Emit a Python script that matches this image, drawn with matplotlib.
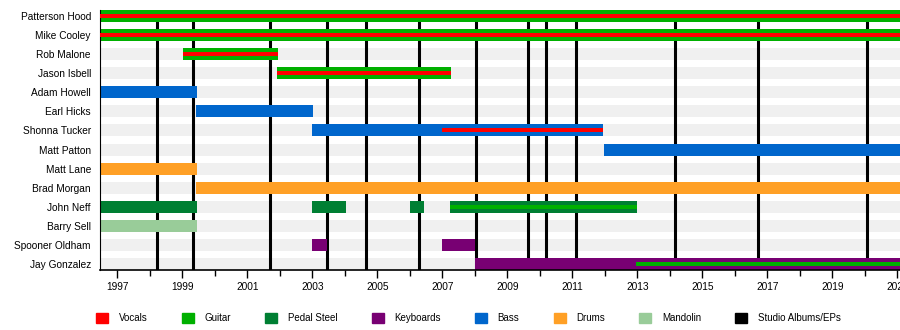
import matplotlib.pyplot as plt
from matplotlib.patches import Patch

plt.rcParams['font.family'] = ['Liberation Sans', 'DejaVu Sans']

members = ["Patterson Hood", "Mike Cooley", "Rob Malone", "Jason Isbell",
           "Adam Howell", "Earl Hicks", "Shonna Tucker", "Matt Patton",
           "Matt Lane", "Brad Morgan", "John Neff", "Barry Sell",
           "Spooner Oldham", "Jay Gonzalez"]

start = 1996.47
now = 2021.08

# main role bars: (member, role, from, to)
bars = [
    ("Patterson Hood", "Guitar", start, now),
    ("Mike Cooley", "Guitar", start, now),
    ("Rob Malone", "Guitar", 1999.02, 2001.94),
    ("Jason Isbell", "Guitar", 2001.91, 2007.27),
    ("Adam Howell", "Bass", start, 1999.45),
    ("Earl Hicks", "Bass", 1999.42, 2003.02),
    ("Shonna Tucker", "Bass", 2003.0, 2011.94),
    ("Matt Patton", "Bass", 2011.97, now),
    ("Matt Lane", "Drums", start, 1999.45),
    ("Brad Morgan", "Drums", 1999.42, now),
    ("John Neff", "Pedal Steel", start, 1999.45),
    ("John Neff", "Pedal Steel", 2003.0, 2004.04),
    ("John Neff", "Pedal Steel", 2006.0, 2006.44),
    ("John Neff", "Pedal Steel", 2007.24, 2012.99),
    ("Barry Sell", "Mandolin", start, 1999.45),
    ("Spooner Oldham", "Keyboards", 2003.0, 2003.45),
    ("Spooner Oldham", "Keyboards", 2007.0, 2008.0),
    ("Jay Gonzalez", "Keyboards", 2008.0, now),
]

# secondary roles, drawn as a thin stripe inside the bar
stripes = [
    ("Patterson Hood", "Vocals", start, now),
    ("Mike Cooley", "Vocals", start, now),
    ("Rob Malone", "Vocals", 1999.02, 2001.94),
    ("Jason Isbell", "Vocals", 2001.91, 2007.27),
    ("Shonna Tucker", "Vocals", 2007.0, 2011.94),
    ("John Neff", "Guitar", 2007.24, 2012.99),
    ("Jay Gonzalez", "Guitar", 2012.96, now),
]

albums = [1998.21, 1999.34, 2001.70, 2003.46, 2004.66, 2006.29, 2008.05,
          2009.65, 2010.20, 2011.12, 2014.17, 2016.72, 2020.05]

roles = ["Vocals", "Guitar", "Pedal Steel", "Keyboards", "Bass", "Drums", "Mandolin"]
colors = {"Vocals": "#ff0000", "Guitar": "#00b000", "Pedal Steel": "#007f33",
          "Keyboards": "#780073", "Bass": "#0066cc", "Drums": "#ffa026",
          "Mandolin": "#99cc99"}

fig = plt.figure(figsize=(9, 3.3), dpi=100)
ax = fig.add_axes([100 / 900, 60 / 330, 800 / 900, 260 / 330])

h = 0.63
rows = {m: i for i, m in enumerate(members)}

# light grey row bands
ax.barh(range(len(members)), now - start, left=start, height=h,
        color="#f0f0f0", linewidth=0, zorder=0)
ax.vlines(albums, -h / 2, len(members) - 1 + h / 2, colors="black",
          linewidth=2.2, zorder=1)

for m, role, a, b in bars:
    ax.barh(rows[m], b - a, left=a, height=h, color=colors[role],
            linewidth=0, zorder=2)
for m, role, a, b in stripes:
    ax.barh(rows[m], b - a, left=a, height=h / 3, color=colors[role],
            linewidth=0, zorder=3)

ax.set_xlim(start, now)
ax.set_ylim(len(members) - 1 + h / 2, -h / 2)
ax.set_yticks(range(len(members)))
ax.set_yticklabels(members, fontsize=7.3)
ax.tick_params(axis="y", length=0, pad=6.5)
years = list(range(1997, 2022, 2))
ax.set_xticks(years)
ax.set_xticklabels([str(y) for y in years], fontsize=7.3,
                   family=["Liberation Sans Narrow", "Liberation Sans", "DejaVu Sans"])
ax.set_xticks(range(1998, 2022, 2), minor=True)
ax.tick_params(axis="x", which="major", length=6, width=1, pad=3)
ax.tick_params(axis="x", which="minor", length=4, width=1)
ax.spines["top"].set_visible(False)
ax.spines["right"].set_visible(False)
ax.spines["left"].set_linewidth(0.8)
ax.spines["bottom"].set_linewidth(1.2)

handles = [Patch(color=colors[r]) for r in roles] + [Patch(color="black")]
labels = roles + ["Studio Albums/EPs"]
fig.legend(handles, labels, ncol=8, loc="center",
           bbox_to_anchor=(468.5 / 900, 12 / 330), frameon=False, fontsize=7,
           handlelength=1.25, handleheight=1.25, handletextpad=1.1,
           columnspacing=3.5)

fig.savefig("out.png", dpi=100)
